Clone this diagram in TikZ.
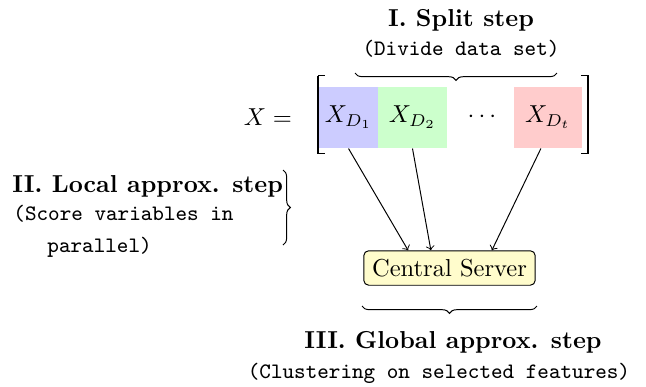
\documentclass[tikz,border=0pt]{standalone}
\usetikzlibrary{decorations.pathreplacing,calc}
\begin{document}
\begin{tikzpicture}[x=0.408pt,y=-0.408pt,
  lbl/.style={inner sep=0pt,font=\bfseries},
  ttl/.style={inner sep=0pt,font=\ttfamily\small},
  part/.style={inner sep=0pt,minimum height=24.9pt},
  brc/.style={decorate,decoration={brace,amplitude=3pt}},
  conn/.style={->},
  server/.style={draw,rounded corners=2pt,fill=yellow!20,inner sep=3.4pt}]
\useasboundingbox (0,0) rectangle (646,387);
% top labels
\node[lbl,anchor=base] (t1) at (461,26) {I. Split step};
\node[ttl,anchor=base] (t2) at (461,55) {(Divide data set)};
\draw[brc] (557,73) -- (355,73);
% matrix
\node[inner sep=0pt,anchor=base] (xeq) at (268,125) {$X =$};
\node[part,fill=blue!20,minimum width=24.1pt] (d1) at (348.5,117.5) {$X_{D_1}$};
\node[part,fill=green!20,minimum width=28.2pt] (d2) at (412.5,117.5) {$X_{D_2}$};
\node[inner sep=0pt] (dots) at (482,117) {$\cdots$};
\node[part,fill=red!20,minimum width=27.7pt] (dt) at (548,117.5) {$X_{D_t}$};
\draw[line width=0.4pt] (325,75.5) -- (318,75.5) -- (318,153.5) -- (325,153.5);
\draw[line width=0.7pt] (318.3,75.5) -- (318.3,153.5);
\draw[line width=0.4pt] (581,75.5) -- (588,75.5) -- (588,153.5) -- (581,153.5);
\draw[line width=0.7pt] (587.7,75.5) -- (587.7,153.5);
% server
\node[server] (srv) at (449.5,268) {Central Server};
\draw[conn] (d1.south) -- ([xshift=-16.9pt]srv.north);
\draw[conn] (d2.south) -- ([xshift=-7.6pt]srv.north);
\draw[conn] ([xshift=-2.9pt]dt.south) -- ([xshift=17.3pt]srv.north);
% left labels
\node[lbl,anchor=base west] (l1) at (12,192) {II. Local approx. step};
\node[ttl,anchor=base west] (l2) at (13,220) {(Score variables in};
\node[ttl,anchor=base west] (l3) at (47,252) {parallel)};
\draw[brc] (283,170) -- (283,245);
% bottom
\draw[brc] (537,306) -- (362,306);
\node[lbl,anchor=base] (b1) at (453,348) {III. Global approx. step};
\node[ttl,anchor=base] (b2) at (439,378) {(Clustering on selected features)};
\end{tikzpicture}
\end{document}
